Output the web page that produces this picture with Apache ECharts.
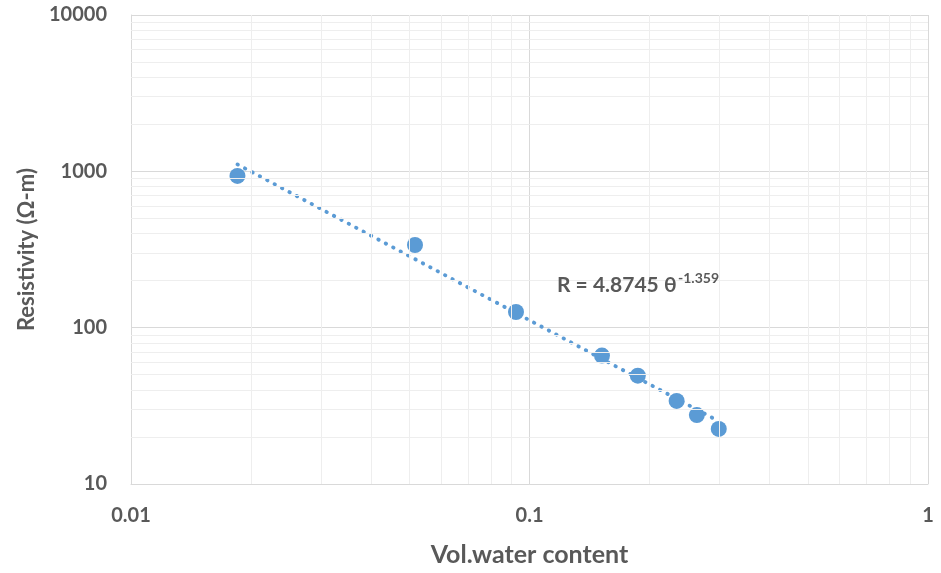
<!DOCTYPE html>
<html><head><meta charset="utf-8">
<script src="https://cdn.jsdelivr.net/npm/echarts@6/dist/echarts.min.js"></script>
<style>html,body{margin:0;padding:0;background:#fff}#c{width:941px;height:573px}</style>
</head><body><div id="c"></div>
<script>
const waterContent = [0.0185, 0.0516, 0.0925, 0.152, 0.187, 0.234, 0.263, 0.2985];
const resistivity = [935, 338, 126, 66.3, 49.3, 34.0, 27.6, 22.5];
const trendX = [0.0185, 0.2985];
const trendY = [1108, 25.2];
const xMinorGrid = [0.02,0.03,0.04,0.05,0.06,0.07,0.08,0.09,0.2,0.3,0.4,0.5,0.6,0.7,0.8,0.9];
const yMinorGrid = [20,30,40,50,60,70,80,90,200,300,400,500,600,700,800,900,2000,3000,4000,5000,6000,7000,8000,9000];
const xTicks = ['0.01','0.1','1'];
const yTicks = ['10','100','1000','10000'];
const equationText = 'R = 4.8745 θ';
const equationExp = '-1.359';

const font = 'Lato, "Open Sans", sans-serif';
const txt = '#595959';
const blue = '#5b9bd5';

const minorLines = [];
xMinorGrid.forEach(v => minorLines.push({xAxis: v}));
yMinorGrid.forEach(v => minorLines.push({yAxis: v}));

const chart = echarts.init(document.getElementById('c'));
chart.setOption({
  animation: false,
  grid: {left: 131, right: 13, top: 15, bottom: 89},
  xAxis: {
    type: 'log', logBase: 10, min: 0.01, max: 1,
    name: 'Vol.water content', nameLocation: 'middle', nameGap: 58,
    nameTextStyle: {color: txt, fontWeight: 'bold', fontSize: 25, fontFamily: font},
    axisLine: {lineStyle: {color: '#d9d9d9', width: 1}},
    axisTick: {show: false},
    axisLabel: {color: txt, fontWeight: 'bold', fontSize: 20, fontFamily: font, margin: 22,
      formatter: v => { const i = Math.round(Math.log10(v)) + 2; return xTicks[i] !== undefined ? xTicks[i] : ''; }},
    splitLine: {show: true, lineStyle: {color: '#d9d9d9', width: 1}},
    minorTick: {show: false}
  },
  yAxis: {
    type: 'log', logBase: 10, min: 10, max: 10000,
    name: 'Resistivity (Ω-m)', nameLocation: 'middle', nameGap: 92,
    nameTextStyle: {color: txt, fontWeight: 'bold', fontSize: 22, fontFamily: font},
    axisLine: {show: true, lineStyle: {color: '#d9d9d9', width: 1}},
    axisTick: {show: false},
    axisLabel: {color: txt, fontWeight: 'bold', fontSize: 20, fontFamily: font, margin: 24,
      formatter: v => { const i = Math.round(Math.log10(v)) - 1; return yTicks[i] !== undefined ? yTicks[i] : ''; }},
    splitLine: {show: true, lineStyle: {color: '#d9d9d9', width: 1}}
  },
  series: [
    {
      type: 'line', data: [], z: 1, silent: true,
      markLine: {silent: true, symbol: 'none', label: {show: false},
        lineStyle: {color: '#eeeeee', width: 1, type: 'solid'}, data: minorLines, animation: false}
    },
    {
      type: 'line', z: 3, silent: true, showSymbol: false, symbol: 'none',
      data: trendX.map((x, i) => [x, trendY[i]]),
      lineStyle: {color: blue, width: 3.8, type: [0.5, 7.9], cap: 'round'}
    },
    {
      type: 'scatter', z: 4, symbolSize: 16,
      itemStyle: {color: blue, opacity: 1},
      data: waterContent.map((x, i) => [x, resistivity[i]])
    }
  ],
  graphic: [
    {
      type: 'text', left: 557, top: 272, z: 10,
      style: {text: equationText, fontSize: 21, lineHeight: 26, fontWeight: 'bold', fill: txt, fontFamily: font}
    },
    {
      type: 'text', left: 678, top: 269, z: 10,
      style: {text: equationExp, fontSize: 14, lineHeight: 18, fontWeight: 'bold', fill: txt, fontFamily: font}
    }
  ]
});
</script></body></html>
